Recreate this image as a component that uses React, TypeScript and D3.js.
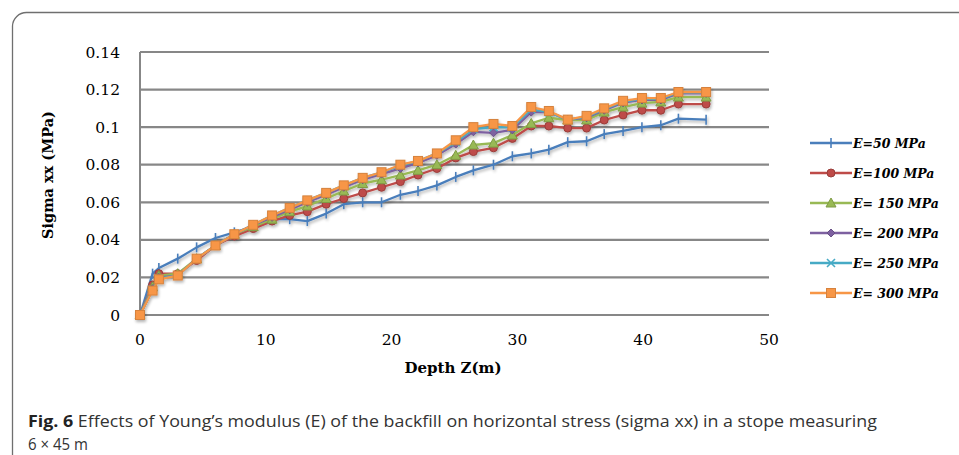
import React from 'react';
import * as d3 from 'd3';

// depth (m) at each calculation point
const depth = [0, 1, 1.5, 3, 4.5, 6, 7.5, 9, 10.5, 11.9, 13.3, 14.8, 16.2, 17.7, 19.2, 20.7, 22.1, 23.6, 25.1, 26.5, 28.1, 29.6, 31.1, 32.5, 34, 35.5, 36.9, 38.4, 39.9, 41.4, 42.8, 45];

const e50 = [0, 0.022, 0.025, 0.03, 0.036, 0.041, 0.044, 0.047, 0.051, 0.051, 0.05, 0.054, 0.059, 0.06, 0.06, 0.064, 0.066, 0.069, 0.0735, 0.077, 0.08, 0.0845, 0.086, 0.088, 0.092, 0.0925, 0.0963, 0.098, 0.1, 0.101, 0.1045, 0.104];
const e100 = [0, 0.016, 0.022, 0.022, 0.029, 0.037, 0.042, 0.046, 0.05, 0.053, 0.055, 0.059, 0.062, 0.065, 0.068, 0.071, 0.0745, 0.078, 0.0836, 0.087, 0.089, 0.094, 0.1006, 0.1006, 0.0995, 0.0995, 0.1038, 0.1065, 0.109, 0.109, 0.1123, 0.1123];
const e150 = [0, 0.015, 0.021, 0.022, 0.03, 0.037, 0.043, 0.047, 0.051, 0.055, 0.058, 0.062, 0.066, 0.07, 0.072, 0.0745, 0.077, 0.08, 0.085, 0.0905, 0.0915, 0.0958, 0.102, 0.105, 0.1038, 0.1038, 0.108, 0.1107, 0.1128, 0.1134, 0.116, 0.116];
const e200 = [0, 0.014, 0.02, 0.021, 0.03, 0.037, 0.043, 0.048, 0.052, 0.056, 0.06, 0.064, 0.068, 0.072, 0.075, 0.078, 0.081, 0.085, 0.091, 0.0975, 0.097, 0.0985, 0.108, 0.108, 0.104, 0.105, 0.109, 0.113, 0.1145, 0.1145, 0.118, 0.118];
const e250 = [0, 0.0135, 0.0195, 0.021, 0.03, 0.037, 0.043, 0.048, 0.053, 0.057, 0.061, 0.065, 0.069, 0.073, 0.076, 0.0795, 0.082, 0.086, 0.092, 0.099, 0.1, 0.1, 0.1095, 0.108, 0.104, 0.1055, 0.1095, 0.1135, 0.115, 0.115, 0.1185, 0.1185];
const e300 = [0, 0.013, 0.019, 0.021, 0.03, 0.037, 0.043, 0.048, 0.053, 0.057, 0.061, 0.065, 0.069, 0.073, 0.076, 0.08, 0.082, 0.086, 0.093, 0.1, 0.1017, 0.1006, 0.1107, 0.1086, 0.104, 0.106, 0.11, 0.114, 0.1155, 0.1155, 0.1187, 0.1187];

const seriesNames = ['E=50 MPa', 'E=100 MPa', 'E= 150 MPa', 'E= 200 MPa', 'E= 250 MPa', 'E= 300 MPa'];
const seriesValues = [e50, e100, e150, e200, e250, e300];
const colors = ['#4a7ebb', '#be4b48', '#98b954', '#7d60a0', '#46aac5', '#f79646'];
const markers = ['plus', 'circle', 'triangle', 'diamond', 'cross', 'square'];

const xTicks = [0, 10, 20, 30, 40, 50];
const yTicks = [0, 0.02, 0.04, 0.06, 0.08, 0.1, 0.12, 0.14];

const W = 959;
const H = 455;

const Marker = ({ kind, x, y, color }: { kind: string; x: number; y: number; color: string }) => {
  const s = 4;
  if (kind === 'circle') return <circle cx={x} cy={y} r={s} fill={color} stroke={d3.color(color)!.darker(0.6).toString()} strokeWidth={1} />;
  if (kind === 'square') return <rect x={x - s - 0.5} y={y - s - 0.5} width={2 * s + 1} height={2 * s + 1} fill={color} stroke={d3.color(color)!.darker(0.4).toString()} strokeWidth={1} />;
  if (kind === 'triangle') return <path d={`M${x},${y - s - 1}L${x + s + 1},${y + s}L${x - s - 1},${y + s}Z`} fill={color} stroke={d3.color(color)!.darker(0.5).toString()} strokeWidth={1} />;
  if (kind === 'diamond') return <path d={`M${x},${y - s}L${x + s},${y}L${x},${y + s}L${x - s},${y}Z`} fill={color} stroke={d3.color(color)!.darker(0.5).toString()} strokeWidth={1} />;
  if (kind === 'cross') return <path d={`M${x - s},${y - s}L${x + s},${y + s}M${x - s},${y + s}L${x + s},${y - s}`} stroke={color} strokeWidth={1.6} />;
  return <path d={`M${x},${y - s - 1}L${x},${y + s + 1}`} stroke={color} strokeWidth={1.6} />;
};

export default function App() {
  const x = d3.scaleLinear().domain([0, 50]).range([140, 769]);
  const y = d3.scaleLinear().domain([0, 0.14]).range([315, 52]);
  const line = d3.line<number>().x((_, i) => x(depth[i])).y(d => y(d));

  return (
    <svg width={W} height={H} style={{ position: 'absolute', left: 0, top: 0, background: '#fff' }}>
      <defs>
        <filter id="sh" x="-10%" y="-10%" width="120%" height="130%">
          <feGaussianBlur in="SourceAlpha" stdDeviation="1.5" />
          <feOffset dx="1" dy="2" result="b" />
          <feComponentTransfer><feFuncA type="linear" slope="0.3" /></feComponentTransfer>
          <feMerge><feMergeNode /><feMergeNode in="SourceGraphic" /></feMerge>
        </filter>
      </defs>

      {/* frame */}
      <path d={`M12.5,${H}L12.5,26A14,14 0 0 1 26.5,12.5L${W},12.5`} fill="none" stroke="#6f6f6f" strokeWidth={1.3} />

      {/* gridlines */}
      {yTicks.map(t => (
        <line key={t} x1={x(0)} x2={x(50)} y1={y(t)} y2={y(t)} stroke="#878787" strokeWidth={2.2} />
      ))}
      <line x1={x(0)} x2={x(0)} y1={y(0.14)} y2={y(0)} stroke="#878787" strokeWidth={2} />

      {/* tick labels */}
      {yTicks.map(t => (
        <text key={t} x={120} y={y(t) + 5.5} textAnchor="end" fontFamily="DejaVu Serif" fontSize={15.5} fill="#000">
          {t === 0 ? '0' : d3.format('')(+t.toFixed(2))}
        </text>
      ))}
      {xTicks.map(t => (
        <text key={t} x={x(t)} y={345} textAnchor="middle" fontFamily="DejaVu Serif" fontSize={15.5} fill="#000">
          {t}
        </text>
      ))}

      {/* axis titles */}
      <text x={453} y={373} textAnchor="middle" fontFamily="DejaVu Serif" fontWeight="bold" fontSize={15} fill="#000">Depth Z(m)</text>
      <text transform={`translate(53,175) rotate(-90)`} textAnchor="middle" fontFamily="DejaVu Serif" fontWeight="bold" fontSize={14.5} fill="#000">Sigma xx (MPa)</text>

      {/* series */}
      <g filter="url(#sh)">
        {seriesValues.map((vals, si) => (
          <g key={si}>
            <path d={line(vals) || ''} fill="none" stroke={colors[si]} strokeWidth={2.3} strokeLinejoin="round" />
            {vals.map((v, i) => (
              <Marker key={i} kind={markers[si]} x={x(depth[i])} y={y(v)} color={colors[si]} />
            ))}
          </g>
        ))}
      </g>

      {/* legend */}
      {seriesNames.map((name, i) => {
        const ly = 143 + i * 30;
        return (
          <g key={name}>
            <line x1={810} x2={852} y1={ly} y2={ly} stroke={colors[i]} strokeWidth={2.3} />
            <Marker kind={markers[i]} x={831} y={ly} color={colors[i]} />
            <text x={853} y={ly + 4.5} fontFamily="DejaVu Serif" fontWeight="bold" fontStyle="italic" fontSize={12.5} fill="#000">{name}</text>
          </g>
        );
      })}

      {/* caption */}
      <text x={28} y={427} fontFamily="Open Sans" fontSize={15.5} fill="#333" textLength={849} lengthAdjust="spacingAndGlyphs">
        <tspan fontWeight="bold" fill="#222">Fig. 6</tspan>
        <tspan>{'  Effects of Young\u2019s modulus (E) of the backfill on horizontal stress (sigma xx) in a stope measuring'}</tspan>
      </text>
      <text x={28} y={450} fontFamily="Open Sans" fontSize={15.5} fill="#333" textLength={60} lengthAdjust="spacingAndGlyphs">6 × 45 m</text>
    </svg>
  );
}
